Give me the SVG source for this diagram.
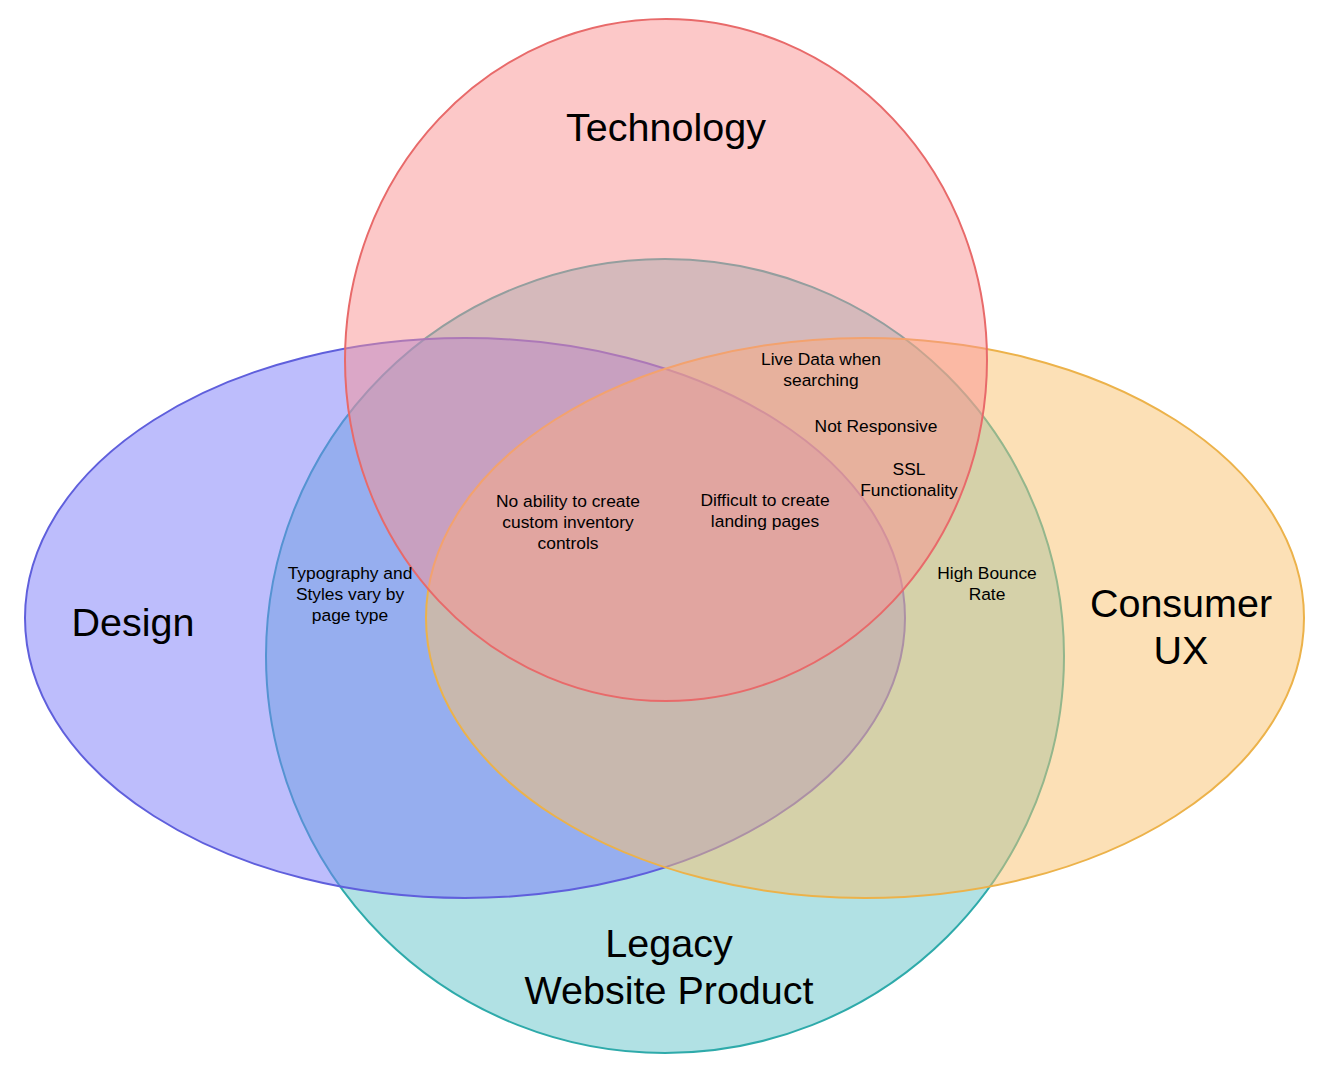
<svg xmlns="http://www.w3.org/2000/svg" width="1325" height="1077" viewBox="0 0 1325 1077">
  <style>
    .set { fill-opacity: 0.5; stroke-width: 2; }
    .title { font-family: "Liberation Sans", Arial, sans-serif; font-size: 39.5px; fill: #000; text-anchor: middle; }
    .note { font-family: "Liberation Sans", Arial, sans-serif; font-size: 17.4px; fill: #000; text-anchor: middle; }
  </style>
  <rect width="1325" height="1077" fill="#ffffff"/>
  <!-- four overlapping sets, drawn back to front -->
  <g id="legacy">
    <ellipse class="set" cx="665" cy="656" rx="399" ry="397" fill="#63c3c9" stroke="#2eaaaa"/>
  </g>
  <g id="design">
    <ellipse class="set" cx="465" cy="618" rx="440" ry="280" fill="#7b7bf9" stroke="#5f5fdc"/>
  </g>
  <g id="consumer-ux">
    <ellipse class="set" cx="865" cy="618" rx="439" ry="280" fill="#f9c16d" stroke="#ecb24a"/>
  </g>
  <g id="technology">
    <ellipse class="set" cx="666" cy="360" rx="321" ry="341" fill="#f99191" stroke="#e86a6a"/>
  </g>
  <!-- set titles -->
  <g id="labels">
    <text class="title" x="666" y="141">Technology</text>
    <text class="title" x="133" y="636">Design</text>
    <text class="title" x="1181" y="617">Consumer</text>
    <text class="title" x="1181" y="664">UX</text>
    <text class="title" x="669" y="957">Legacy</text>
    <text class="title" x="669" y="1004">Website Product</text>
  </g>
  <!-- issues placed in the overlaps -->
  <g id="notes">
    <text class="note" x="821" y="365">Live Data when</text>
    <text class="note" x="821" y="386">searching</text>
    <text class="note" x="876" y="432">Not Responsive</text>
    <text class="note" x="909" y="475">SSL</text>
    <text class="note" x="909" y="496">Functionality</text>
    <text class="note" x="568" y="507">No ability to create</text>
    <text class="note" x="568" y="528">custom inventory</text>
    <text class="note" x="568" y="549">controls</text>
    <text class="note" x="765" y="506">Difficult to create</text>
    <text class="note" x="765" y="527">landing pages</text>
    <text class="note" x="350" y="579">Typography and</text>
    <text class="note" x="350" y="600">Styles vary by</text>
    <text class="note" x="350" y="621">page type</text>
    <text class="note" x="987" y="579">High Bounce</text>
    <text class="note" x="987" y="600">Rate</text>
  </g>
</svg>
